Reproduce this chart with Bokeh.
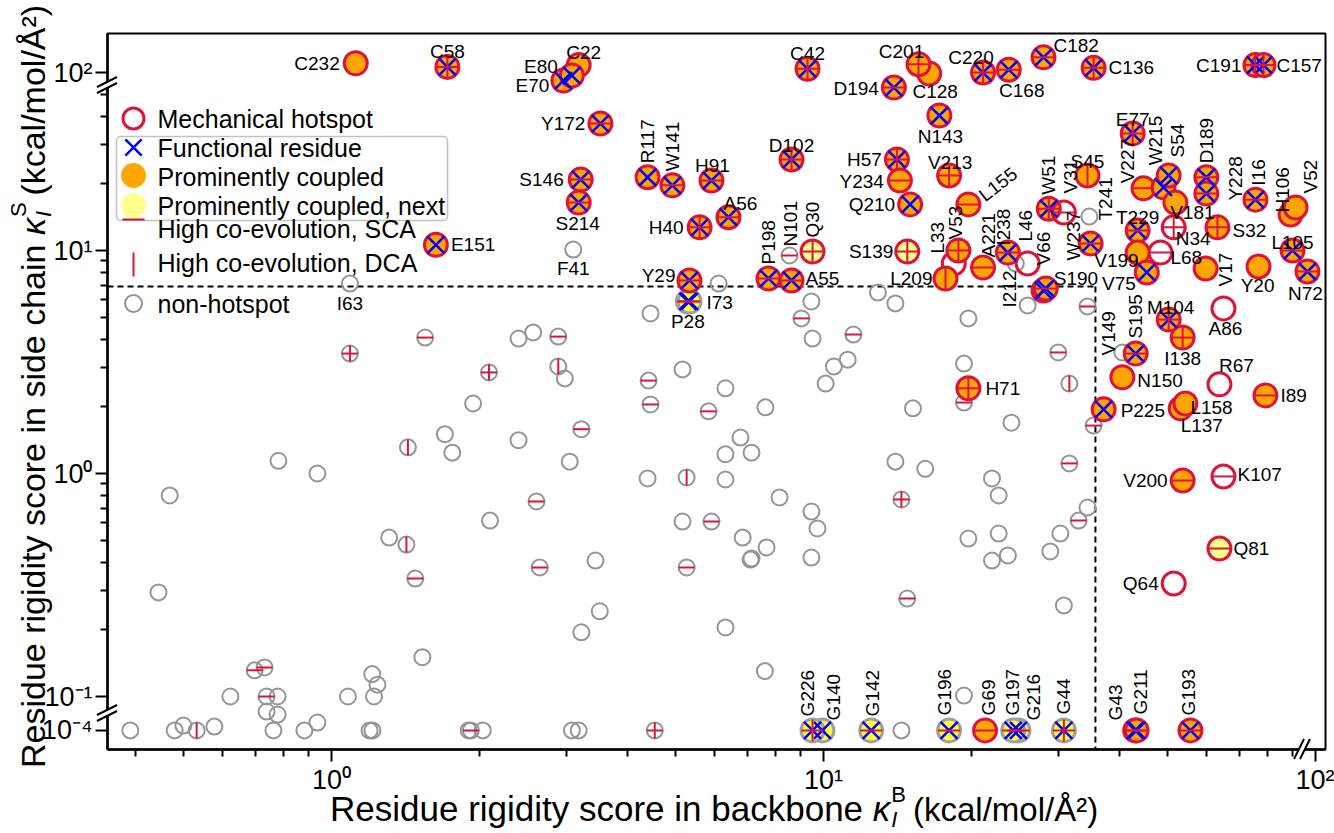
import math
from bokeh.plotting import figure
from bokeh.layouts import column
from bokeh.models import (ColumnDataSource, FixedTicker, CustomJSTickFormatter,
                          BoxAnnotation, Div)
from bokeh.core.properties import value
from bokeh.embed import file_html
from bokeh.resources import INLINE

# ------------------------------------------------------------------ data
# mechanical hotspots (red-edged). fill: O = prominently coupled, Y = coupled next, W = none
# marks: x = functional residue, s = high co-evolution SCA, d = high co-evolution DCA
hot_res = ["C232", "C58", "C22", "E70", "E80", "C42", "C128", "C201", "D194", "N143",
           "C220", "C168", "C182", "C136", "C191", "C157", "E77", "Y172", "D102", "H57",
           "Y234", "V213", "Q210", "L155", "S146", "S214", "R117", "W141", "H91", "A56",
           "H40", "E151", "Y29", "P198", "A55", "Q30", "S139", "L33", "V53", "L209",
           "A221", "I238", "L46", "W51", "V31", "V66", "S190", "W237", "S45", "V227",
           "W215", "S54", "V181", "T229", "N34", "L68", "V199", "V75", "D189", "Y228",
           "S32", "I16", "H106", "V52", "L105", "N72", "V17", "Y20", "M104", "I138",
           "A86", "S195", "N150", "P225", "L137", "L158", "R67", "I89", "V200", "K107",
           "Q81", "Q64", "H71", "G69", "G43", "G211", "G193"]
hot_kB = [1.12, 1.72, 3.18, 2.96, 3.08, 9.28, 16.4, 15.6, 13.9, 17.2,
          21.1, 23.8, 28.0, 35.4, 75.5, 78.4, 42.5, 3.52, 8.61, 14.1,
          14.3, 18.0, 15.0, 19.7, 3.21, 3.18, 4.39, 4.93, 5.92, 6.41,
          5.60, 1.63, 5.34, 7.73, 8.61, 9.50, 14.8, 18.4, 18.8, 17.7,
          21.1, 23.7, 26.0, 28.7, 30.8, 28.0, 28.3, 34.9, 34.4, 44.7,
          49.1, 50.3, 51.9, 43.5, 51.5, 48.4, 43.5, 45.4, 60.0, 60.0,
          63.2, 75.5, 89.0, 91.1, 89.8, 96.3, 59.8, 76.6, 50.3, 53.7,
          65.0, 43.1, 40.5, 37.1, 53.2, 54.4, 63.8, 79.1, 53.7, 65.0,
          63.8, 51.5, 19.7, 21.3, 43.0, 43.3, 55.7]
hot_kS = [110, 106, 108, 92, 97, 104, 99, 109, 53.8, 40.3,
          100, 103, 117, 105, 108, 108, 33.5, 37.1, 25.6, 25.6,
          20.6, 21.7, 16.1, 16.1, 20.8, 16.4, 21.3, 19.6, 20.6, 14.1,
          12.7, 10.6, 7.34, 7.49, 7.34, 9.90, 9.90, 8.74, 10.0, 7.49,
          8.39, 9.79, 8.74, 15.4, 14.8, 6.62, 6.75, 10.75, 21.7, 19.0,
          19.2, 21.7, 16.4, 12.3, 12.7, 9.79, 9.79, 7.97, 21.3, 18.0,
          12.7, 16.9, 14.5, 15.6, 10.0, 8.05, 8.30, 8.48, 4.90, 4.07,
          5.50, 3.45, 2.70, 1.94, 1.96, 2.06, 2.51, 2.24, 0.93, 0.97,
          0.461, 0.321, 2.41, 1e-4, 1e-4, 1e-4, 1e-4]
hot_fill = ["O", "O", "O", "O", "O", "O", "O", "O", "O", "O",
            "O", "O", "O", "O", "O", "O", "O", "O", "O", "O",
            "O", "O", "O", "O", "O", "O", "O", "O", "O", "O",
            "O", "O", "O", "O", "O", "Y", "Y", "W", "O", "O",
            "O", "O", "W", "O", "W", "O", "O", "O", "O", "O",
            "O", "O", "O", "O", "W", "W", "O", "O", "O", "O",
            "O", "O", "O", "O", "O", "O", "O", "O", "O", "O",
            "W", "O", "O", "O", "O", "O", "W", "O", "O", "W",
            "Y", "W", "O", "O", "O", "O", "O"]
hot_marks = ["", "xsd", "", "x", "x", "xsd", "", "sd", "xs", "x",
             "xsd", "xs", "xs", "xsd", "xsd", "xsd", "xsd", "xs", "xsd", "xsd",
             "s", "sd", "x", "s", "xs", "xs", "x", "xs", "xs", "xs",
             "xsd", "x", "xs", "xs", "xs", "sd", "sd", "", "sd", "d",
             "s", "xs", "", "xsd", "s", "x", "xs", "xs", "d", "s",
             "x", "x", "", "xs", "sd", "s", "", "x", "xs", "xs",
             "sd", "xs", "", "", "xs", "xs", "", "", "xsd", "sd",
             "", "xs", "", "x", "", "", "", "s", "s", "s",
             "s", "", "sd", "s", "xs", "xs", "xs"]

# coupled, functional non-hotspots (grey-edged, yellow)
cpl_res = ["P28", "I73", "G140", "G226", "G142", "G196", "G216", "G197", "G44"]
cpl_kB = [5.30, 5.34, 9.95, 9.50, 12.5, 18.0, 24.9, 24.3, 30.8]
cpl_kS = [5.91, 5.91, 1e-4, 1e-4, 1e-4, 1e-4, 1e-4, 1e-4, 1e-4]
cpl_marks = ["xs", "xs", "x", "xsd", "xs", "xs", "xs", "xs", "xsd"]

# non-hotspots (grey open circles)
non_named = ["I63", "F41", "T241", "N101", "V149", "I212"]
non_kB = [1.09, 3.10, 34.7, 8.53, 40.5, 26.0,
          6.12, 5.27, 24.6, 1.09, 1.55, 0.780, 0.936, 0.469, 1.43, 1.31,
          1.42, 1.48, 0.445, 1.53, 0.698, 0.731, 0.623, 0.738, 0.777, 0.738,
          0.777, 1.08, 1.21, 1.24, 1.22, 0.390, 0.480, 0.500, 0.532, 0.578,
          0.762, 0.881, 0.936, 1.195, 1.211, 2.09, 2.40, 2.57, 2.89, 2.89,
          2.98, 1.94, 1.70, 1.76, 2.40, 3.22, 3.05, 2.61, 2.10, 4.45,
          4.41, 4.45, 5.17, 6.32, 5.84, 6.78, 6.32, 7.14, 4.39, 5.27,
          6.32, 5.17, 5.92, 7.62, 2.65, 3.44, 3.51, 3.22, 6.85, 7.11,
          5.27, 6.32, 7.60, 1.92, 1.90, 2.03, 3.08, 3.18, 4.54, 9.45,
          9.02, 9.50, 11.5, 10.5, 11.2, 10.1, 12.9, 14.0, 19.7, 19.3,
          19.3, 15.2, 24.1, 30.0, 34.4, 31.6, 35.4, 31.6, 34.4, 33.0,
          14.0, 16.1, 22.0, 22.7, 8.14, 9.45, 9.72, 14.4, 7.66, 7.14,
          9.45, 19.7, 22.7, 22.0, 23.7, 28.9, 30.3, 14.8, 30.8, 19.3,
          14.4]
non_kS = [7.11, 10.1, 14.2, 9.50, 3.49, 5.67,
          7.11, 7.49, 8.74, 3.45, 4.07, 1.14, 1.00, 0.797, 1.31, 0.516,
          0.480, 0.338, 0.293, 0.150, 0.131, 0.135, 0.100, 0.100, 0.100, 0.0856,
          0.0830, 0.100, 0.126, 0.113, 0.100, 1e-4, 1e-4, 0.0741, 1e-4, 0.0733,
          1e-4, 1e-4, 0.0764, 1e-4, 1e-4, 2.84, 4.03, 4.29, 4.11, 3.02,
          2.67, 2.06, 1.50, 1.24, 1.41, 1.58, 1.13, 0.749, 0.615, 5.22,
          2.61, 2.04, 2.93, 2.41, 1.90, 1.45, 1.22, 1.24, 0.950, 0.960,
          0.940, 0.609, 0.609, 1.98, 0.379, 0.407, 0.241, 0.194, 0.516, 0.411,
          0.379, 0.204, 0.130, 1e-4, 1e-4, 1e-4, 1e-4, 1e-4, 1e-4, 5.91,
          4.96, 4.03, 4.20, 3.02, 3.24, 2.53, 6.48, 5.79, 4.96, 3.11,
          2.08, 1.96, 1.69, 3.49, 5.61, 2.53, 1.64, 1.11, 0.704, 0.615,
          1.13, 1.05, 0.950, 0.797, 0.781, 0.675, 0.567, 0.765, 0.466, 0.416,
          0.420, 0.511, 0.538, 0.407, 0.429, 0.447, 0.538, 0.275, 0.256, 0.101,
          1e-4]
non_marks = ["", "", "", "s", "", "",
             "", "", "", "sd", "s", "", "", "", "d", "",
             "d", "s", "", "", "s", "s", "", "s", "", "",
             "", "", "", "", "", "", "", "", "d", "",
             "", "", "", "", "", "sd", "", "", "s", "d",
             "", "", "", "", "", "s", "", "s", "", "",
             "s", "s", "", "", "s", "", "", "", "", "d",
             "", "", "s", "", "s", "", "", "", "", "",
             "s", "", "", "s", "", "", "", "", "sd", "",
             "s", "", "s", "", "", "", "", "", "", "",
             "s", "", "", "s", "s", "d", "s", "s", "", "s",
             "", "", "", "", "", "", "", "sd", "", "",
             "", "", "", "", "", "", "", "s", "", "",
             ""]
non_res = non_named + [""] * (len(non_kB) - len(non_named))

# threshold lines
S_THRESH = 6.9    # side-chain rigidity threshold
B_THRESH = 35.7   # backbone rigidity threshold

legend_labels = ["Mechanical hotspot", "Functional residue", "Prominently coupled",
                 "Prominently coupled, next", "High co-evolution, SCA",
                 "High co-evolution, DCA", "non-hotspot"]

# ------------------------------------------------------------------ style / layout
RED = "#DC143C"
ORANGE = "#FFA500"
LYELLOW = "#FFFF8C"
BYELLOW = "#FFFF33"
BLUE = "#0000FF"
GRAY = "#959595"
FONT = "Liberation Sans"

TOP_SHIFT = 10 ** -0.202    # compression above the upper y-axis break
ROW_1E4 = 10 ** -1.152      # drawing position of the 10^-4 row (below lower break)


def disp_y(v):
    if v <= 1e-3:
        return ROW_1E4
    if v >= 80:
        return v * TOP_SHIFT
    return v


def px2x(px):   # screen pixel -> x data (for legend placement)
    return 10 ** ((px - 331) / 492)


def py2y(py):   # screen pixel -> y display value (for legend placement)
    return 10 ** ((473 - py) / 223)


p = figure(width=1334, height=833, x_axis_type="log", y_axis_type="log",
           x_range=(px2x(107), px2x(1325)), y_range=(py2y(749), py2y(33)),
           output_backend="svg", toolbar_location=None,
           min_border_left=107, min_border_right=9, min_border_top=33, min_border_bottom=84)
p.title.visible = False
p.xgrid.visible = False
p.ygrid.visible = False
p.background_fill_color = "white"
p.border_fill_color = "white"
p.outline_line_color = "black"
p.outline_line_width = 2

p.xaxis.ticker = FixedTicker(ticks=[1, 10, 100],
                             minor_ticks=[0.4, 0.5, 0.6, 0.7, 0.8, 0.9,
                                          2, 3, 4, 5, 6, 7, 8, 9,
                                          20, 30, 40, 50, 60, 70, 80, 90])
p.yaxis.ticker = FixedTicker(ticks=[ROW_1E4, 0.1, 1, 10, 100 * TOP_SHIFT],
                             minor_ticks=[0.2, 0.3, 0.4, 0.5, 0.6, 0.7, 0.8, 0.9,
                                          2, 3, 4, 5, 6, 7, 8, 9, 20, 30, 40, 50])
p.xaxis.formatter = CustomJSTickFormatter(code="""
const r = Math.round(Math.log10(tick));
return {"0": "10\u2070", "1": "10\u00b9", "2": "10\u00b2"}[String(r)];
""")
p.yaxis.formatter = CustomJSTickFormatter(code="""
const l = Math.log10(tick);
if (l < -1.05) return "10\u207b\u2074";
if (l > 1.5) return "10\u00b2";
const r = Math.round(l);
return {"-1": "10\u207b\u00b9", "0": "10\u2070", "1": "10\u00b9"}[String(r)];
""")
for ax in (p.xaxis[0], p.yaxis[0]):
    ax.axis_line_width = 2.5
    ax.axis_line_color = "black"
    ax.major_tick_line_width = 2
    ax.minor_tick_line_width = 2
    ax.major_tick_in = 0
    ax.major_tick_out = 12
    ax.minor_tick_in = 0
    ax.minor_tick_out = 7
    ax.major_label_text_font = FONT
    ax.major_label_text_font_size = "27px"
    ax.major_label_text_color = "black"
    ax.major_label_standoff = 3

# threshold dashed lines
p.segment(x0=[p.x_range.start], y0=[S_THRESH], x1=[B_THRESH], y1=[S_THRESH],
          line_color="black", line_width=2, line_dash="6 4")
p.segment(x0=[B_THRESH], y0=[S_THRESH], x1=[B_THRESH], y1=[p.y_range.start],
          line_color="black", line_width=2, line_dash="6 4")


def subset(xs, ys, marks, flag):
    ix = [i for i, m in enumerate(marks) if flag in m]
    return [xs[i] for i in ix], [ys[i] for i in ix]


XSIZE = 24

# ---- non-hotspots
non_y = [disp_y(v) for v in non_kS]
p.scatter(non_kB, non_y, marker="circle", size=16, fill_color=None,
          line_color=GRAY, line_width=2)
sx, sy = subset(non_kB, non_y, non_marks, "s")
p.scatter(sx, sy, marker="dash", size=16, line_color=RED, line_width=2)
sx, sy = subset(non_kB, non_y, non_marks, "d")
p.scatter(sx, sy, marker="dash", angle=math.pi / 2, size=16, line_color=RED, line_width=2)

# ---- coupled non-hotspots
cpl_y = [disp_y(v) for v in cpl_kS]
p.scatter(cpl_kB, cpl_y, marker="circle", size=23, fill_color=BYELLOW,
          line_color="#A0A0A0", line_width=3)
sx, sy = subset(cpl_kB, cpl_y, cpl_marks, "x")
p.scatter(sx, sy, marker="x", size=XSIZE, line_color=BLUE, line_width=2.5)
sx, sy = subset(cpl_kB, cpl_y, cpl_marks, "s")
p.scatter(sx, sy, marker="dash", size=22, line_color=RED, line_width=2)
sx, sy = subset(cpl_kB, cpl_y, cpl_marks, "d")
p.scatter(sx, sy, marker="dash", angle=math.pi / 2, size=22, line_color=RED, line_width=2)

# ---- hotspots
FILLS = {"O": ORANGE, "Y": LYELLOW, "W": "white"}
hot_y = [disp_y(v) for v in hot_kS]
hsrc = ColumnDataSource(dict(x=hot_kB, y=hot_y,
                             fc=[FILLS[f] for f in hot_fill],
                             fa=[0.0 if f == "W" else 1.0 for f in hot_fill]))
p.scatter("x", "y", source=hsrc, marker="circle", size=23, fill_color="fc",
          fill_alpha="fa", line_color=RED, line_width=3)
sx, sy = subset(hot_kB, hot_y, hot_marks, "x")
p.scatter(sx, sy, marker="x", size=XSIZE, line_color=BLUE, line_width=2.5)
sx, sy = subset(hot_kB, hot_y, hot_marks, "s")
p.scatter(sx, sy, marker="dash", size=22, line_color=RED, line_width=2)
sx, sy = subset(hot_kB, hot_y, hot_marks, "d")
p.scatter(sx, sy, marker="dash", angle=math.pi / 2, size=22, line_color=RED, line_width=2)

# ---- residue labels: (group, x offset px, y offset px)
LABEL_POS = {
    "C232": ("l", -16, 0), "C58": ("a", 0, -15), "C22": ("a", 5, -13), "E80": ("l", -14, -9),
    "E70": ("l", -14, 5), "C42": ("a", 0, -15), "C201": ("a", -17, -13), "C128": ("b", 6, 10),
    "D194": ("l", -15, 1), "N143": ("b", 1, 13), "C220": ("a", -12, -15), "C168": ("b", 13, 13),
    "C182": ("r", 10, -12), "C136": ("r", 15, 0), "C191": ("l", -14, 0), "C157": ("r", 13, 0),
    "E77": ("a", 0, -14), "Y172": ("l", -15, 0), "D102": ("a", 0, -14), "H57": ("l", -15, 0),
    "Y234": ("l", -16, 1), "V213": ("a", 1, -13), "Q210": ("l", -15, 0), "L155": ("d", 13, -7),
    "S146": ("l", -17, 0), "S214": ("b", -1, 13), "R117": ("v", 0, -14), "W141": ("v", 0, -14),
    "H91": ("a", 1, -15), "A56": ("a", 12, -14), "H40": ("l", -16, 0), "E151": ("r", 15, 0),
    "Y29": ("l", -14, -5), "P198": ("v", 0, -14), "A55": ("r", 14, -2), "Q30": ("v", 0, -14),
    "S139": ("l", -14, 0), "L33": ("v", -16, -10), "V53": ("v", -3, -11), "L209": ("l", -13, 0),
    "A221": ("v", 5, -10), "I238": ("v", -4, -7), "L46": ("v", -2, -22), "W51": ("v", 0, -14),
    "V31": ("v", 7, -19), "V66": ("v", 0, -25), "S190": ("r", 8, -10), "W237": ("v", -17, 17),
    "S45": ("a", 0, -14), "V227": ("v", -16, -5), "W215": ("v", -8, -22), "S54": ("v", 9, -18),
    "V181": ("c", 17, 10), "T229": ("a", 0, -13), "N34": ("r", 2, 11), "L68": ("r", 10, 5),
    "V199": ("l", 1, 8), "V75": ("l", -11, 11), "D189": ("v", 0, -14), "Y228": ("v", 29, 7),
    "S32": ("r", 15, 3), "I16": ("v", 3, -14), "H106": ("v", -8, -2), "V52": ("v", 15, -14),
    "L105": ("a", 0, -8), "N72": ("b", -2, 14), "V17": ("v", 20, 18), "Y20": ("b", -1, 12),
    "M104": ("a", 2, -12), "I138": ("b", 0, 13), "A86": ("b", 2, 13), "S195": ("v", 0, -15),
    "N150": ("r", 15, 3), "P225": ("r", 17, 1), "L137": ("r", 0, 17), "L158": ("r", 5, 4),
    "R67": ("c", 17, -19), "I89": ("r", 15, 0), "V200": ("l", -15, 0), "K107": ("r", 14, -2),
    "Q81": ("r", 14, 0), "Q64": ("l", -15, 0), "H71": ("r", 17, 0), "G69": ("v", 3, -15),
    "G43": ("v", -20, -10), "G211": ("v", 4, -16), "G193": ("v", -2, -15),
    "I73": ("r", 17, 1), "P28": ("b", 0, 13), "G226": ("v", -5, -14), "G140": ("v", 11, -10),
    "G142": ("v", 1, -14), "G196": ("v", -5, -15), "G197": ("v", -1, -15), "G216": ("v", 15, -10),
    "G44": ("v", 0, -16), "I63": ("b", 0, 12), "F41": ("b", 0, 11), "T241": ("v", 16, 4),
    "N101": ("v", 1, -9), "V149": ("v", -14, 3), "I212": ("v", -18, 2),
}
GROUPS = {
    "l": dict(angle=0, text_align="right", text_baseline="middle", dy=0),
    "r": dict(angle=0, text_align="left", text_baseline="middle", dy=0),
    "a": dict(angle=0, text_align="center", text_baseline="alphabetic", dy=0),
    "b": dict(angle=0, text_align="center", text_baseline="top", dy=-3),
    "c": dict(angle=0, text_align="center", text_baseline="middle", dy=0),
    "v": dict(angle=math.pi / 2, text_align="left", text_baseline="middle", dy=0),
    "d": dict(angle=0.66, text_align="left", text_baseline="middle", dy=0),
}
pos = {}
for names, xs, ys in ((non_res, non_kB, non_y), (cpl_res, cpl_kB, cpl_y), (hot_res, hot_kB, hot_y)):
    for n, x, y in zip(names, xs, ys):
        if n:
            pos[n] = (x, y)
for g, st in GROUPS.items():
    d = dict(x=[], y=[], t=[], xo=[], yo=[])
    for n, (gg, ox, oy) in LABEL_POS.items():
        if gg != g or n not in pos:
            continue
        d["x"].append(pos[n][0]); d["y"].append(pos[n][1]); d["t"].append(n)
        d["xo"].append(ox); d["yo"].append(oy + st["dy"])
    if not d["x"]:
        continue
    p.text(x="x", y="y", text="t", x_offset="xo", y_offset="yo", source=ColumnDataSource(d),
           angle=st["angle"], text_align=st["text_align"], text_baseline=st["text_baseline"],
           text_font=value(FONT), text_font_size="19px", text_color="black")

# ---- legend (manual)
LX = px2x(133)
rows = [118, 147, 175, 205, 219, 264, 303]
p.scatter([LX], [py2y(rows[0])], marker="circle", size=21, fill_color=None, line_color=RED, line_width=3)
p.scatter([LX], [py2y(rows[1])], marker="x", size=23, line_color=BLUE, line_width=2.5)
p.scatter([LX], [py2y(rows[2])], marker="circle", size=25, fill_color=ORANGE, line_color=None)
p.scatter([LX], [py2y(rows[3])], marker="circle", size=25, fill_color=LYELLOW, line_color=None)
p.scatter([LX], [py2y(rows[4])], marker="dash", size=22, line_color=RED, line_width=2)
p.scatter([LX], [py2y(rows[5])], marker="dash", angle=math.pi / 2, size=24, line_color=RED, line_width=2)
p.scatter([LX], [py2y(rows[6])], marker="circle", size=17, fill_color=None, line_color=GRAY, line_width=2)
text_rows = [118, 147, 176, 205, 228, 262, 303]
p.text(x=[px2x(157)] * 7, y=[py2y(r) for r in text_rows], text=legend_labels,
       text_align="left", text_baseline="middle", text_font=value(FONT),
       text_font_size="25px", text_color="black")
p.add_layout(BoxAnnotation(left=px2x(116), right=px2x(447), top=py2y(136), bottom=py2y(220),
                           fill_alpha=0, line_color="#333333", line_width=1.5, border_radius=4))

# ------------------------------------------------------------------ transparent HTML overlay
# axis titles (kappa with stacked sub/superscripts) and the axis-break marks,
# which lie outside the plot frame where Bokeh clips annotations.
SUBSUP = ('<span style="position:relative;display:inline-block;width:13px;height:0;">'
          '<span style="position:absolute;left:1px;top:-34px;font-size:22px;line-height:16px;">{sup}</span>'
          '<i style="position:absolute;left:1px;top:-9px;font-size:22px;line-height:16px;">I</i></span>')
xtitle = ("Residue rigidity score in backbone <i>\u03ba</i>" + SUBSUP.format(sup="B")
          + ' <span style="font-size:33px;">(kcal/mol/\u00c5\u00b2)</span>')
ytitle = ("Residue rigidity score in side chain <i>\u03ba</i>" + SUBSUP.format(sup="S")
          + " (kcal/mol/\u00c5\u00b2)")


def ybreak_svg(cx, cy):
    return (f'<polygon points="{cx-10},{cy+2} {cx+10},{cy-8} {cx+10},{cy-2} {cx-10},{cy+8}" fill="white"/>'
            f'<line x1="{cx-10}" y1="{cy+2}" x2="{cx+10}" y2="{cy-8}" stroke="black" stroke-width="2"/>'
            f'<line x1="{cx-10}" y1="{cy+8}" x2="{cx+10}" y2="{cy-2}" stroke="black" stroke-width="2"/>')


def xbreak_svg(cx, cy):
    return (f'<polygon points="{cx-8},{cy+10} {cx+2},{cy-10} {cx+8},{cy-10} {cx-2},{cy+10}" fill="white"/>'
            f'<line x1="{cx-8}" y1="{cy+10}" x2="{cx+2}" y2="{cy-10}" stroke="black" stroke-width="2"/>'
            f'<line x1="{cx-2}" y1="{cy+10}" x2="{cx+8}" y2="{cy-10}" stroke="black" stroke-width="2"/>')


html = (
    '<div style="position:relative;width:1334px;height:833px;pointer-events:none;'
    "font-family:'Liberation Sans',Arial,sans-serif;color:#000;\">"
    '<svg width="1334" height="833" style="position:absolute;left:0;top:0;">'
    + ybreak_svg(107, 85) + ybreak_svg(107, 713) + xbreak_svg(1302, 749)
    + '</svg>'
    '<div style="position:absolute;left:330px;top:791px;font-size:35px;line-height:35px;'
    'white-space:nowrap;">' + xtitle + '</div>'
    '<div style="position:absolute;left:45px;top:768px;transform-origin:0 0;'
    'transform:rotate(-90deg);">'
    '<div style="position:absolute;left:0;top:-29px;font-size:34px;line-height:34px;'
    'white-space:nowrap;">' + ytitle + '</div></div>'
    '</div>'
)
overlay = Div(text=html, width=1334, height=833, margin=(-833, 0, 0, 0))

layout = column(p, overlay, spacing=0)
open("out.html", "w").write(file_html(layout, INLINE))
